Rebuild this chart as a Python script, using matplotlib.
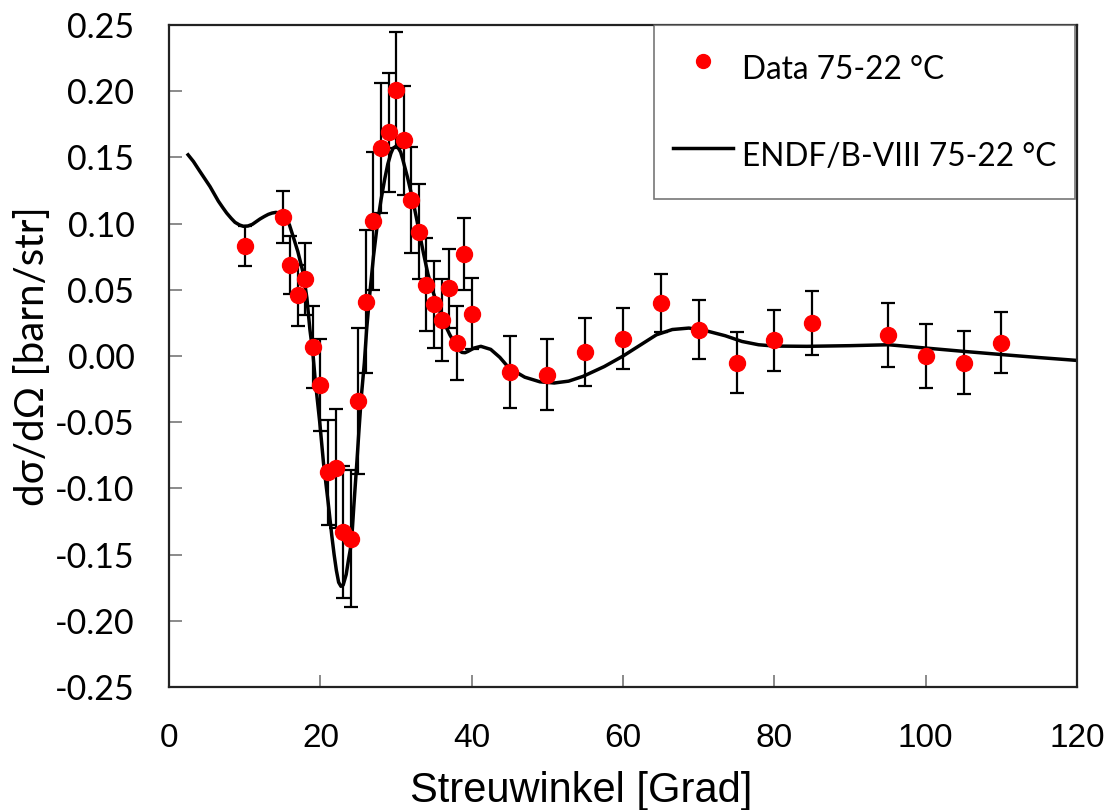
import matplotlib.pyplot as plt
from matplotlib.lines import Line2D
import numpy as np

# measured data points (angle in degrees, cross section, error)
angle = [10, 15, 16, 17, 18, 19, 20, 21, 22, 23, 24, 25, 26, 27, 28, 29, 30,
         31, 32, 33, 34, 35, 36, 37, 38, 39, 40, 45, 50, 55, 60, 65, 70, 75,
         80, 85, 95, 100, 105, 110]
dsig = [0.083, 0.105, 0.069, 0.046, 0.058, 0.007, -0.022, -0.088, -0.085,
        -0.133, -0.138, -0.034, 0.041, 0.102, 0.157, 0.169, 0.201, 0.163,
        0.118, 0.094, 0.054, 0.039, 0.027, 0.051, 0.010, 0.077, 0.032,
        -0.012, -0.014, 0.003, 0.013, 0.040, 0.020, -0.005, 0.012, 0.025,
        0.016, 0.000, -0.005, 0.010]
err = [0.015, 0.020, 0.022, 0.023, 0.027, 0.031, 0.035, 0.040, 0.045, 0.050,
       0.052, 0.055, 0.054, 0.052, 0.049, 0.045, 0.044, 0.041, 0.040, 0.036,
       0.035, 0.033, 0.031, 0.030, 0.028, 0.027, 0.027, 0.027, 0.027, 0.026,
       0.023, 0.022, 0.022, 0.023, 0.023, 0.024, 0.024, 0.024, 0.024, 0.023]

# ENDF/B-VIII curve
endf_x = [2.5, 3.2, 4.0, 4.7, 5.4, 6.0, 6.5, 7.1, 7.6, 8.2, 8.7, 9.3, 9.8,
          10.4, 11.0, 11.5, 12.0, 12.6, 13.1, 13.6, 14.1, 14.7, 15.3, 15.9,
          16.4, 17.0, 17.7, 18.2, 18.6, 19.0, 19.3, 19.9, 20.4, 21.0, 21.5,
          21.8, 22.1, 22.4, 22.7, 23.0, 23.4, 23.7, 24.1, 24.4, 24.8, 25.1,
          25.4, 25.8, 26.1, 26.5, 27.0, 27.5, 28.0, 28.5, 28.9, 29.3, 29.6,
          30.0, 30.3, 30.6, 30.9, 31.5, 32.2, 32.9, 33.6, 34.2, 34.9, 35.5,
          36.0, 36.6, 37.1, 37.6, 38.0, 38.4, 38.7, 39.1, 39.5, 40.3, 41.2,
          42.5, 43.7, 44.9, 47.0, 49.0, 50.9, 52.8, 54.7, 57.5, 60.0, 62.2,
          64.4, 66.5, 68.7, 71.0, 73.5, 75.7, 77.9, 80.0, 84.3, 90.0, 95.1,
          100.0, 105.0, 110.2, 115.0, 119.9]
endf_y = [0.152, 0.147, 0.140, 0.134, 0.128, 0.122, 0.117, 0.112, 0.108,
          0.104, 0.101, 0.0990, 0.0980, 0.0982, 0.0995, 0.1015, 0.1035,
          0.1055, 0.1070, 0.1080, 0.1085, 0.1080, 0.1055, 0.0990, 0.0900,
          0.0790, 0.0630, 0.0440, 0.0200, 0.0020, -0.0180, -0.0500, -0.0810,
          -0.1100, -0.1360, -0.1500, -0.1620, -0.1710, -0.1740, -0.1730,
          -0.1650, -0.1540, -0.1410, -0.1140, -0.0810, -0.0550, -0.0305,
          -0.0050, 0.0200, 0.0460, 0.0750, 0.0990, 0.1180, 0.1340, 0.1450,
          0.1530, 0.1570, 0.1585, 0.1570, 0.1540, 0.1480, 0.1350, 0.1180,
          0.0980, 0.0780, 0.0620, 0.0480, 0.0380, 0.0300, 0.0220, 0.0160,
          0.0110, 0.0070, 0.0040, 0.0027, 0.0025, 0.0035, 0.0060, 0.0073,
          0.0050, -0.0010, -0.0090, -0.0160, -0.0195, -0.0204, -0.0190,
          -0.0154, -0.0080, 0.0000, 0.0080, 0.0160, 0.0200, 0.0211, 0.0190,
          0.0153, 0.0110, 0.0085, 0.0075, 0.0073, 0.0078, 0.0085, 0.0060,
          0.0035, 0.0010, -0.0012, -0.0033]

plt.rcParams['font.family'] = ['Liberation Sans', 'DejaVu Sans']
calibri_like = ['Lato', 'DejaVu Sans']

fig = plt.figure(figsize=(11.13, 8.10), dpi=100)
ax = fig.add_axes([0.152, 0.152, 0.8157, 0.817])

ax.errorbar(angle, dsig, yerr=err, fmt='o', color='red', markersize=11.5,
            ecolor='black', elinewidth=1.6, capsize=5, capthick=1.6, zorder=3)
ax.plot(endf_x, endf_y, color='black', lw=2.5, zorder=2)

ax.set_xlim(0, 120)
ax.set_ylim(-0.25, 0.25)
ax.set_xticks(np.arange(0, 121, 20))
yt = np.round(np.arange(-0.25, 0.2501, 0.05), 2)
ax.set_yticks(yt)
ax.set_yticklabels(['%.2f' % (v + 0.0) for v in yt], family=calibri_like)
ax.tick_params(direction='in', length=9, width=1.2, color='#777777')
ax.tick_params(axis='y', pad=25, labelsize=24.5)
ax.tick_params(axis='x', pad=26, labelsize=24)
for s in ax.spines.values():
    s.set_linewidth(1.6)
    s.set_color('#222222')

ax.set_xlabel('Streuwinkel [Grad]', fontsize=30)
ax.xaxis.set_label_coords(0.454, -0.127)
ax.set_ylabel('dσ/dΩ [barn/str]', fontsize=29, family=calibri_like)
ax.yaxis.set_label_coords(-0.151, 0.5)
ax.yaxis.label.set_va('center')

h_data = Line2D([], [], ls='none', marker='o', color='red', markersize=10)
h_endf = Line2D([], [], color='black', lw=2.5)
leg = ax.legend([h_data, h_endf],
                ['Data 75-22 °C', 'ENDF/B-VIII 75-22 °C'],
                loc='upper right', bbox_to_anchor=(0.998, 1.0),
                frameon=True, fancybox=False, borderpad=0.6,
                labelspacing=1.2, handlelength=1.9, handleheight=2.0,
                handletextpad=0.28, borderaxespad=0.0,
                prop={'family': calibri_like, 'size': 22.8})
leg.get_frame().set_edgecolor('#555555')
leg.get_frame().set_linewidth(1.2)

fig.savefig('out.png', dpi=100)
